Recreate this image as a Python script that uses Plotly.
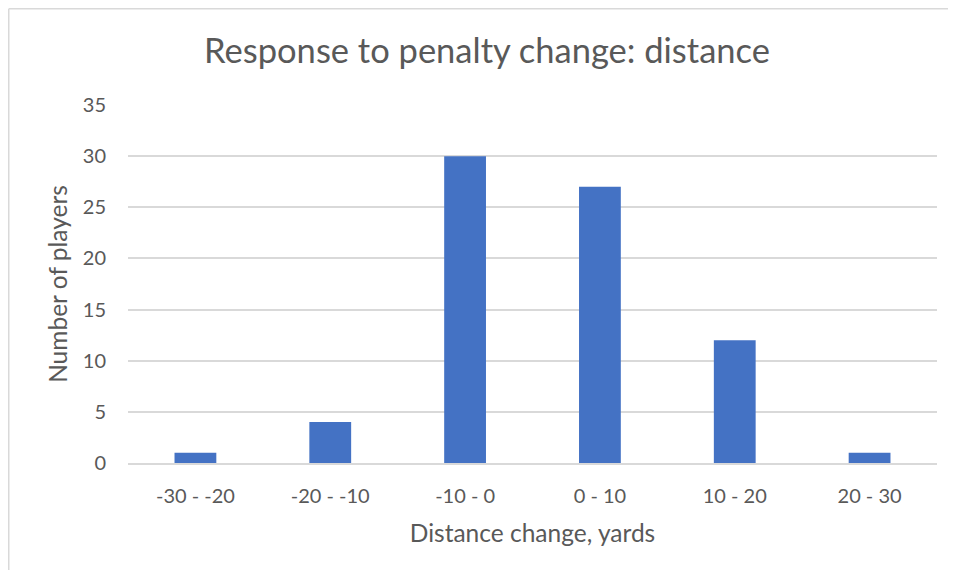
import plotly.graph_objects as go

categories = ["-30 - -20", "-20 - -10", "-10 - 0", "0 - 10", "10 - 20", "20 - 30"]
players = [1, 4, 30, 27, 12, 1]
y_ticks = [0, 5, 10, 15, 20, 25, 30, 35]

# page body has an 8px margin, so the figure is sized/offset to compensate
OFF = 8
W, H = 956 - 2 * OFF, 578 - 2 * OFF
L, R, T = 128 - OFF, 19 - OFF, 105 - OFF
pw = W - L - R
ph = 358
B = H - T - ph
FONT = "Lato, Open Sans, sans-serif"
GREY = "#595959"

fig = go.Figure(go.Bar(x=categories, y=players, marker=dict(color="#4472C4", line=dict(width=0))))

bx = (0.75 - L) / pw
by = 1 + (T - 0.75) / ph
fig.update_layout(
    width=W, height=H,
    margin=dict(l=L, r=R, t=T, b=B),
    paper_bgcolor="white", plot_bgcolor="white",
    bargap=0.69,
    font=dict(family=FONT, color=GREY),
    title=dict(text="Response to penalty change: distance", x=(487 - OFF) / W, xanchor="center",
               xref="container",
               y=1 - (51 - OFF) / H, yanchor="middle", font=dict(size=34.5, color=GREY, family=FONT)),
    xaxis=dict(title=dict(text="Distance change, yards", font=dict(size=24.5), standoff=19),
               tickfont=dict(size=20), showgrid=False, showline=True, linecolor="#d9d9d9",
               linewidth=1.5, ticks="", ticklabelstandoff=14),
    yaxis=dict(title=dict(text="Number of players", font=dict(size=24.5), standoff=8),
               range=[0, 35], tickvals=y_ticks, tickfont=dict(size=20),
               showgrid=True, gridcolor="#d9d9d9", gridwidth=1.5, zeroline=False,
               ticks="", ticklabelstandoff=21),
    shapes=[
        dict(type="line", xref="paper", yref="paper", x0=bx, x1=bx, y0=by, y1=-1,
             line=dict(color="#d9d9d9", width=1.5)),
        dict(type="line", xref="paper", yref="paper", x0=bx, x1=2, y0=by, y1=by,
             line=dict(color="#d9d9d9", width=1.5)),
    ],
    showlegend=False,
)

fig.write_html("out.html")
